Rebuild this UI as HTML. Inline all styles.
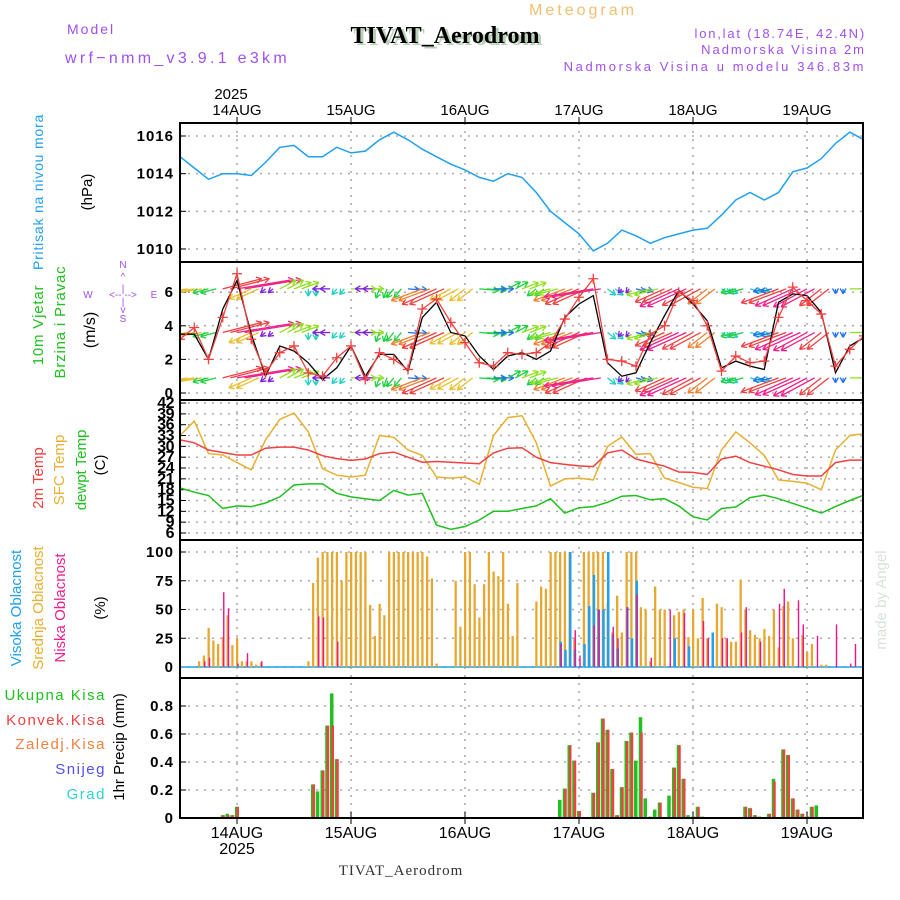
<!DOCTYPE html>
<html><head><meta charset="utf-8">
<style>
html,body{margin:0;padding:0;background:#fff;}
svg{display:block;font-family:"Liberation Sans",sans-serif;}
</style></head>
<body>
<svg id="chart" width="900" height="900" viewBox="0 0 900 900" xmlns="http://www.w3.org/2000/svg">
<defs>
<clipPath id="clipW"><rect x="180" y="262" width="683" height="138"/></clipPath>
</defs>
<text x="67" y="34" font-size="14" fill="#a050f0" letter-spacing="2">Model</text>
<text x="65" y="63" font-size="16" fill="#a050f0" letter-spacing="3.3">wrf−nmm_v3.9.1 e3km</text>
<text x="583" y="15" font-size="16" fill="#f0c070" text-anchor="middle" letter-spacing="3">Meteogram</text>
<text x="448" y="45" font-size="24" font-weight="bold" fill="#b8d0b8" text-anchor="middle" font-family="Liberation Serif,serif">TIVAT_Aerodrom</text>
<text x="445" y="43" font-size="24" font-weight="bold" fill="#000" text-anchor="middle" font-family="Liberation Serif,serif">TIVAT_Aerodrom</text>
<text x="866" y="38" font-size="13" fill="#a050f0" text-anchor="end" letter-spacing="1.8">lon,lat (18.74E, 42.4N)</text>
<text x="866" y="54" font-size="13" fill="#a050f0" text-anchor="end" letter-spacing="2">Nadmorska Visina 2m</text>
<text x="866" y="71" font-size="13" fill="#a050f0" text-anchor="end" letter-spacing="2.6">Nadmorska Visina u modelu 346.83m</text>
<text x="231" y="99" font-size="15" text-anchor="middle">2025</text>
<g id="g"></g>
<text transform="translate(43,192) rotate(-90)" font-size="14" fill="#20a0f0" text-anchor="middle" letter-spacing="0.8">Pritisak na nivou mora</text>
<text transform="translate(92,192) rotate(-90)" font-size="15" text-anchor="middle">(hPa)</text>
<text transform="translate(43,325) rotate(-90)" font-size="15" fill="#20c020" text-anchor="middle" letter-spacing="0.8">10m Vjetar</text>
<text transform="translate(65,322) rotate(-90)" font-size="15" fill="#20c020" text-anchor="middle" letter-spacing="0.8">Brzina i Pravac</text>
<text transform="translate(95,330) rotate(-90)" font-size="16" text-anchor="middle">(m/s)</text>
<g fill="#a050f0" font-size="10" text-anchor="middle">
<text x="123" y="268">N</text><text x="123" y="280">^</text><text x="123" y="292">|</text>
<text x="88" y="298">W</text><text x="123" y="298">&lt;-- --&gt;</text><text x="154" y="298">E</text>
<text x="123" y="305">|</text><text x="123" y="313">v</text><text x="123" y="322">S</text>
</g>
<text transform="translate(43,478) rotate(-90)" font-size="15" fill="#f04040" text-anchor="middle">2m Temp</text>
<text transform="translate(64,470) rotate(-90)" font-size="15" fill="#e8b030" text-anchor="middle">SFC Temp</text>
<text transform="translate(86,470) rotate(-90)" font-size="15" fill="#20c020" text-anchor="middle">dewpt Temp</text>
<text transform="translate(105,465) rotate(-90)" font-size="15" text-anchor="middle">(C)</text>
<text transform="translate(21,608) rotate(-90)" font-size="15" fill="#20a0f0" text-anchor="middle">Visoka Oblacnost</text>
<text transform="translate(43,608) rotate(-90)" font-size="15" fill="#e8b030" text-anchor="middle">Srednja Oblacnost</text>
<text transform="translate(65,608) rotate(-90)" font-size="15" fill="#f02090" text-anchor="middle">Niska Oblacnost</text>
<text transform="translate(105,608) rotate(-90)" font-size="15" text-anchor="middle">(%)</text>
<text x="106" y="700" font-size="15" fill="#20c020" text-anchor="end" letter-spacing="1.5">Ukupna  Kisa</text>
<text x="106" y="725" font-size="15" fill="#f04040" text-anchor="end" letter-spacing="1.5">Konvek.Kisa</text>
<text x="106" y="749" font-size="15" fill="#f08040" text-anchor="end" letter-spacing="1.5">Zaledj.Kisa</text>
<text x="106" y="774" font-size="15" fill="#5050f0" text-anchor="end" letter-spacing="1.5">Snijeg</text>
<text x="106" y="799" font-size="15" fill="#30d0d0" text-anchor="end" letter-spacing="1.5">Grad</text>
<text transform="translate(124,747) rotate(-90)" font-size="15" text-anchor="middle">1hr Precip (mm)</text>
<text x="237" y="854" font-size="16" text-anchor="middle">2025</text>
<text x="401" y="875" font-size="15" fill="#333" text-anchor="middle" font-family="Liberation Serif,serif" letter-spacing="1">TIVAT_Aerodrom</text>
<text transform="translate(886,600) rotate(-90)" font-size="15" fill="#d8e4d8" text-anchor="middle">made by Angel</text>
</svg>
<script>
const dayLabels = ["14AUG","15AUG","16AUG","17AUG","18AUG","19AUG"];
const dayHours = [12,36,60,84,108,132];
const pressure = [1014.9,1014.3,1013.7,1014.0,1014.0,1013.9,1014.6,1015.4,1015.5,1014.9,1014.9,1015.4,1015.1,1015.2,1015.8,1016.2,1015.8,1015.3,1014.9,1014.5,1014.2,1013.8,1013.6,1014.0,1013.8,1013.0,1012.0,1011.4,1010.8,1009.9,1010.3,1011.0,1010.7,1010.3,1010.6,1010.8,1011.0,1011.1,1011.8,1012.6,1013.0,1012.6,1013.0,1014.1,1014.3,1014.8,1015.6,1016.2,1015.8];
const windSpeed = [3.5,3.5,2.0,5.0,6.7,3.5,1.0,2.8,2.5,1.8,0.8,1.5,2.8,1.0,2.3,2.3,1.3,4.5,5.4,3.6,3.4,2.2,1.4,2.2,2.4,2.0,2.5,4.5,5.3,5.8,1.8,1.0,1.2,3.0,4.6,6.1,5.3,4.3,1.5,1.9,1.6,1.4,5.4,5.9,5.8,4.8,1.2,2.8,3.3];
const windGust = [3.2,3.9,2.0,4.5,7.1,3.2,1.2,2.4,2.8,1.2,1.0,2.1,2.8,0.8,2.4,2.0,1.4,5.0,5.6,4.2,3.0,1.8,1.6,2.4,2.3,2.4,3.0,4.4,5.7,6.8,2.0,1.9,1.6,3.5,4.0,6.0,5.5,4.0,1.3,2.2,1.8,1.9,4.5,6.3,5.5,4.7,1.6,2.6,3.4];
const windDir = [70,70,60,240,250,45,30,220,230,0,90,20,270,90,10,20,280,50,45,40,30,280,270,220,230,30,60,50,45,70,330,20,300,60,45,45,40,30,320,60,300,60,50,45,40,30,0,270,260];
const temp2m = [31.8,31.0,29.0,28.3,27.6,27.6,29.5,29.8,29.8,29.0,27.4,26.6,26.1,26.5,28.0,28.4,27.0,25.6,25.8,25.6,25.4,25.2,28.2,29.5,29.6,27.0,25.5,25.0,24.6,24.4,28.2,29.0,26.5,25.5,24.5,22.9,22.8,22.2,26.5,27.3,25.5,24.5,23.5,22.2,21.8,21.8,25.5,26.2,26.2];
const tempSfc = [33,37,28,27.6,25.5,23.5,31.8,37.5,39.2,34,23.8,22,21.5,22,33,32.5,29,27.5,21.5,21.2,21.5,19.5,33,38,38.5,31,19,21,21.2,20.7,30,32.6,27.8,28,21.2,20,18.7,18.3,29,34,31,27.5,20.7,20.3,19.8,18,29,33,33.5];
const tempDew = [18.5,17.3,16.4,12.8,13.5,13.3,14.3,16,19.3,19.6,19.6,17,16,15.5,15,17.8,16.5,17,8.2,7.0,7.8,9.6,12,12,12.8,13.5,15.5,11.5,13,13.3,14.5,16.2,16.4,15.2,15.5,13.5,10.5,9.6,12.8,13.2,15.8,16.5,15.5,14.2,12.9,11.5,13.3,15,16.5];
const cloudMid = [0,0,0,0,5,10,34,23,20,26, 45,19,25,5,5,5,2,4,0,0, 0,0,0,0,0,0,0,5,73,95, 100,100,100,100,75,100,100,100,100,100, 54,27,55,45,100,100,100,100,100,100, 100,100,96,77,3,0,0,0,75,35, 100,100,72,43,72,100,83,79,100,55, 27,73,0,0,0,57,70,68,100,100, 100,100,100,25,0,100,100,100,100,100, 56,30,62,30,100,100,100,52,50,5, 70,50,50,0,45,48,50,26,50,25, 60,25,0,55,52,25,22,22,76,50, 32,28,25,33,27,50,17,53,57,25, 0,28,13,20,0,2,2,0,0,0, 0,0,0,0];
const lowHours = [5,6,9,10,12,14,17,29,30,33,80,83,84,87,88,91,92,94,96,99,103,106,110,111,114,115,118,119,122,126,127,130,131,134,138,141,142];
const lowValues = [5,8,65,51,3,12,5,44,43,22,20,32,10,36,50,35,25,52,63,8,50,47,40,25,25,25,30,52,22,55,68,58,37,27,37,3,20];
const highHours = [80,81,82,83,85,86,87,88,89,90,91,92,94,95,96,104,107,112];
const highValues = [22,15,100,15,20,53,80,50,50,100,28,16,52,25,75,25,18,30];
const precipHours = [9,10,11,12,28,29,30,31,32,33,80,81,82,83,84,87,88,89,90,91,92,93,94,95,96,97,98,99,100,101,103,104,105,106,107,108,109,110,119,120,121,122,124,125,127,128,129,130,131,132,133,134];
const precipTotal = [0.02,0.03,0.02,0.08,0.24,0.19,0.34,0.66,0.89,0.42,0.13,0.21,0.52,0.41,0.05,0.18,0.54,0.71,0.63,0.35,0.02,0.22,0.55,0.61,0.41,0.72,0.14,0.01,0.06,0.11,0.16,0.36,0.52,0.28,0.02,0.01,0.08,0.01,0.08,0.07,0.02,0.01,0.03,0.28,0.49,0.45,0.14,0.06,0.03,0.01,0.08,0.09];
const precipConv = [0.02,0.02,0.02,0.08,0.24,0.0,0.34,0.66,0.66,0.42,0.0,0.21,0.52,0.41,0.05,0.18,0.54,0.71,0.63,0.35,0.02,0.22,0.55,0.61,0.0,0.61,0.0,0.0,0.0,0.11,0.0,0.36,0.52,0.28,0.0,0.01,0.08,0.0,0.08,0.07,0.02,0.0,0.03,0.26,0.49,0.45,0.14,0.06,0.03,0.01,0.08,0.0];
const pTicks = [1010,1012,1014,1016];
const wTicks = [0,2,4,6];
const tTicks = [6,9,12,15,18,21,24,27,30,33,36,39,42];
const cTicks = [0,25,50,75,100];
const rTicks = [0,0.2,0.4,0.6,0.8];

const NS="http://www.w3.org/2000/svg";
const G=document.getElementById('g');
const X=h=>180+h*4.75;
const yP=p=>136+(1016-p)*18.83;
const yW=s=>393-s*16.8;
const yT=t=>533-(t-6)*3.61;
const yC=c=>667-c*1.15;
const yR=r=>818-r*140;
function el(tag,attrs,parent){const e=document.createElementNS(NS,tag);for(const k in attrs)e.setAttribute(k,attrs[k]);(parent||G).appendChild(e);return e;}
function txt(s,attrs,parent){const e=el('text',attrs,parent);e.textContent=s;return e;}

const panels=[[pTicks,yP,v=>v,'pressure'],[wTicks,yW,v=>v,'wind'],[tTicks,yT,v=>v,'temp'],[cTicks,yC,v=>v,'cloud'],[rTicks,yR,v=>v===0?'0':v.toFixed(1),'precip']];
panels.forEach(([ticks,f,fmt,nm])=>{
  ticks.forEach(v=>{
    const gl=el('line',{x1:180,x2:863,y1:f(v),y2:f(v),stroke:'#aaa','stroke-width':1.5,'stroke-dasharray':'2,6'});
    
    
    el('line',{x1:180,x2:186,y1:f(v),y2:f(v),stroke:'#000','stroke-width':1});
    const t=txt(fmt(v),{x:174,y:f(v)+5,'font-size':(nm==='temp'?16:15),'text-anchor':'end','font-weight':'bold',fill:'#000','letter-spacing':(nm==='temp'?'-0.5':'1')});
    
    
  });
});
dayHours.forEach((h,i)=>{
  const vl=el('line',{x1:X(h),x2:X(h),y1:123,y2:818,stroke:'#aaa','stroke-width':1.5,'stroke-dasharray':'2,6'});
  
  
  el('line',{x1:X(h),x2:X(h),y1:117,y2:124,stroke:'#000','stroke-width':1});
  el('line',{x1:X(h),x2:X(h),y1:812,y2:824,stroke:'#000','stroke-width':1});
  const t1=txt(dayLabels[i],{x:X(h),y:115,'font-size':15,'text-anchor':'middle'});
  
  
  const t2=txt(dayLabels[i],{x:X(h),y:838,'font-size':16,'text-anchor':'middle'});
  
  
});

function poly(arr,fy,color,w,name,parent){
  const pts=arr.map((v,i)=>X(i*3).toFixed(1)+','+fy(v).toFixed(1)).join(' ');
  const p=el('polyline',{points:pts,fill:'none',stroke:color,'stroke-width':w},parent);
  
  
  return p;
}
poly(pressure,yP,'#20a0f0',1.5,'pressure-line');

const wg=el('g',{'clip-path':'url(#clipW)'});
function spdColor(s){if(s>5.5)return '#f0208a';if(s>4.5)return '#f04040';if(s>3.8)return '#f08030';if(s>3)return '#e8c030';if(s>2.3)return '#90e020';if(s>1.8)return '#20d040';if(s>1.4)return '#20d0c0';if(s>1)return '#2070f0';return '#8020e0';}
[6.2,3.6,0.9].forEach(level=>{
  windDir.forEach((d,i)=>{
    const s=windSpeed[i];const len=Math.max(10,s*9);
    const a=(d+180)*Math.PI/180;
    const cx=X(i*3),cy=yW(level);
    const c=spdColor(s);
    [0,1.6].forEach(off=>{
      const bx=cx+off*4.75, by=cy;
      const hx=bx+Math.sin(a)*len,hy=by-Math.cos(a)*len*0.45;
      const ln=el('line',{x1:bx,y1:by,x2:hx,y2:hy,stroke:c,'stroke-width':1.3},wg);
      
      
      const ang=Math.atan2(hy-by,hx-bx);
      [2.6,-2.6].forEach(o=>{el('line',{x1:hx,y1:hy,x2:hx-6*Math.cos(ang+o*0.2),y2:hy-6*Math.sin(ang+o*0.2),stroke:c,'stroke-width':1.3},wg);});
    });
  });
});
poly(windSpeed,yW,'#000',1.3,'wind-speed-line',wg);
poly(windGust,yW,'#f04040',1.3,'wind-gust-line',wg);
windGust.forEach((v,i)=>{
  const cx=X(i*3),cy=yW(v);
  const m=el('path',{d:`M${cx-5},${cy}h10M${cx},${cy-5}v10`,stroke:'#f04040','stroke-width':1.3},wg);
  
  
});

poly(tempSfc,yT,'#e8b030',1.5,'sfc-temp-line');
poly(temp2m,yT,'#f04040',1.5,'temp-2m-line');
poly(tempDew,yT,'#20c020',1.5,'dewpt-temp-line');

el('line',{x1:180,x2:863,y1:yC(0),y2:yC(0),stroke:'#20a0f0','stroke-width':1.5});
cloudMid.forEach((v,h)=>{
  if(v<=0)return;
  const r=el('rect',{x:X(h)-1,y:yC(v),width:2.3,height:yC(0)-yC(v),fill:'#e8a830'});
  
  
});
highHours.forEach((h,i)=>{
  const v=highValues[i];
  const r=el('rect',{x:X(h)-0.5,y:yC(v),width:2.5,height:yC(0)-yC(v),fill:'#20a0f0'});
  
  
});
lowHours.forEach((h,i)=>{
  const v=lowValues[i];
  const r=el('rect',{x:X(h)+0.3,y:yC(v),width:1.4,height:yC(0)-yC(v),fill:'#f0108a'});
  
  
});

precipHours.forEach((h,i)=>{
  const t=precipTotal[i],c=precipConv[i];
  const g=el('rect',{x:X(h)-2,y:yR(t),width:3.5,height:yR(0)-yR(t),fill:'#20c020'});
  
  
  if(c>0){
    const r=el('rect',{x:X(h)-0.5,y:yR(c),width:2.5,height:yR(0)-yR(c),fill:'#f04040'});
    
    
  }
});

[[123,262],[262,400],[400,540],[540,678],[678,818]].forEach(([a,b])=>{
  const f=el('rect',{x:180,y:a,width:683,height:b-a,fill:'none',stroke:'#000','stroke-width':2});
  
  
});
</script>
</body></html>
